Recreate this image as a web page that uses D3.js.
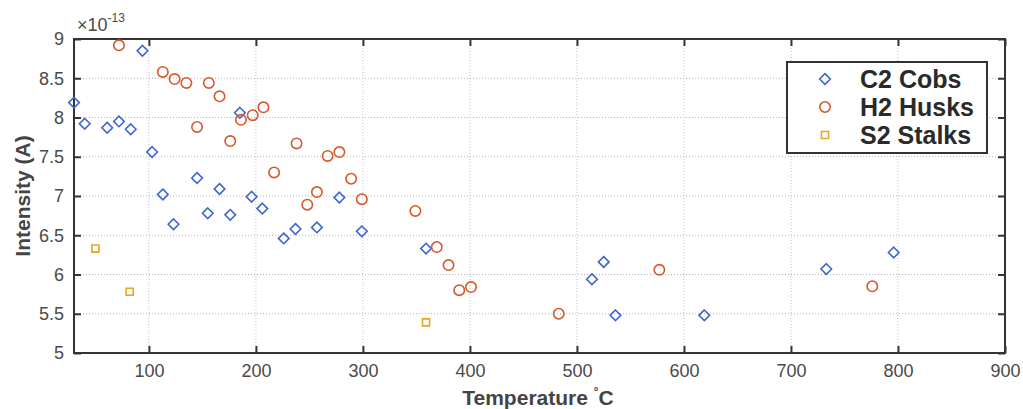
<!DOCTYPE html>
<html><head><meta charset="utf-8">
<script src="https://cdn.jsdelivr.net/npm/d3@7"></script>
<style>body{margin:0;background:#fff;}svg{display:block;}</style>
</head><body>
<svg id="c" width="1023" height="409"></svg>
<script>
const seriesNames = ["C2 Cobs", "H2 Husks", "S2 Stalks"];
const cobsX = [30, 40, 61, 72, 83, 94, 103, 113, 123, 145, 155, 166, 176, 185, 196, 206, 226, 237, 257, 278, 299, 359, 514, 525, 536, 619, 733, 796];
const cobsY = [8.19, 7.92, 7.87, 7.95, 7.85, 8.85, 7.56, 7.02, 6.64, 7.23, 6.78, 7.09, 6.76, 8.06, 6.99, 6.84, 6.46, 6.58, 6.60, 6.98, 6.55, 6.33, 5.94, 6.16, 5.48, 5.48, 6.07, 6.28];
const husksX = [72, 113, 124, 135, 145, 156, 166, 176, 186, 197, 207, 217, 238, 248, 257, 267, 278, 289, 299, 349, 369, 380, 390, 401, 483, 577, 776];
const husksY = [8.92, 8.58, 8.49, 8.44, 7.88, 8.44, 8.27, 7.70, 7.97, 8.03, 8.13, 7.30, 7.67, 6.89, 7.05, 7.51, 7.56, 7.22, 6.96, 6.81, 6.35, 6.12, 5.80, 5.84, 5.50, 6.06, 5.85];
const stalksX = [50, 82, 359];
const stalksY = [6.33, 5.78, 5.39];
const xTicks = [100, 200, 300, 400, 500, 600, 700, 800, 900];
const yTicks = [5, 5.5, 6, 6.5, 7, 7.5, 8, 8.5, 9];

const svg = d3.select("#c");
const L = 74, R = 1005, T = 39, B = 353;
const x = d3.scaleLinear().domain([30, 900]).range([L, R]);
const y = d3.scaleLinear().domain([5, 9]).range([B, T]);
const font = "Liberation Sans, Arial, Helvetica, sans-serif";

// grid
const g = svg.append("g");
g.selectAll(".gx").data(xTicks).join("line")
  .attr("x1", d => x(d)).attr("x2", d => x(d)).attr("y1", T).attr("y2", B)
  .attr("stroke", "#b8bde0").attr("stroke-width", 1).attr("stroke-dasharray", "1,2");
g.selectAll(".gy").data(yTicks).join("line")
  .attr("x1", L).attr("x2", R).attr("y1", d => y(d)).attr("y2", d => y(d))
  .attr("stroke", "#b5b5b5").attr("stroke-width", 1).attr("stroke-dasharray", "1,2");

// axes
const axB = d3.axisBottom(x).tickValues(xTicks).tickSizeInner(-7).tickSizeOuter(0).tickPadding(11);
const axT = d3.axisTop(x).tickValues(xTicks).tickSizeInner(-7).tickSizeOuter(0).tickFormat("");
const axL = d3.axisLeft(y).tickValues(yTicks).tickSizeInner(-7).tickSizeOuter(0).tickPadding(10).tickFormat(d3.format("~g"));
const axR = d3.axisRight(y).tickValues(yTicks).tickSizeInner(-7).tickSizeOuter(0).tickFormat("");
function style(sel) {
  sel.selectAll("path").remove();
  sel.selectAll("line").attr("stroke", "#333").attr("stroke-width", 2);
  sel.selectAll("text").attr("font-family", font).attr("font-size", 18).attr("fill", "#4a4a4a");
}
svg.append("g").attr("transform", `translate(0,${B})`).call(axB).call(style);
svg.append("g").attr("transform", `translate(0,${T})`).call(axT).call(style);
svg.append("g").attr("transform", `translate(${L},0)`).call(axL).call(style);
svg.append("g").attr("transform", `translate(${R},0)`).call(axR).call(style);
svg.append("rect").attr("x", L).attr("y", T).attr("width", R - L).attr("height", B - T)
  .attr("fill", "none").attr("stroke", "#333").attr("stroke-width", 2);

// markers
const colors = ["#3f66cc", "#d4582a", "#e6a620"];
const diamond = d3.symbol().type(d3.symbolDiamond2).size(72);
const circle = d3.symbol().type(d3.symbolCircle).size(85);
const square = d3.symbol().type(d3.symbolSquare).size(50);
const shapes = [diamond, circle, square];
const data = [
  cobsX.map((v, i) => [v, cobsY[i]]),
  husksX.map((v, i) => [v, husksY[i]]),
  stalksX.map((v, i) => [v, stalksY[i]])
];
data.forEach((pts, s) => {
  svg.append("g").selectAll("path").data(pts).join("path")
    .attr("d", shapes[s]())
    .attr("transform", d => `translate(${x(d[0])},${y(d[1])})`)
    .attr("fill", "none").attr("stroke", colors[s]).attr("stroke-width", 1.6);
});

// exponent label
const ex = svg.append("text").attr("x", 77).attr("y", 31).attr("font-family", font)
  .attr("font-size", 18).attr("fill", "#4a4a4a");
ex.append("tspan").text("×10");
ex.append("tspan").attr("dy", -9).attr("font-size", 12).text("-13");

// axis labels
svg.append("text").attr("x", 538).attr("y", 405).attr("text-anchor", "middle")
  .attr("font-family", font).attr("font-weight", "bold").attr("font-size", 21).attr("fill", "#444")
  .call(t => { t.append("tspan").text("Temperature "); t.append("tspan").attr("dy", -9).attr("font-size", 12).text("°"); t.append("tspan").attr("dy", 9).text("C"); });
svg.append("text").attr("transform", `translate(30,${(T + B) / 2}) rotate(-90)`).attr("text-anchor", "middle")
  .attr("font-family", font).attr("font-weight", "bold").attr("font-size", 21).attr("fill", "#444")
  .text("Intensity (A)");

// legend
const lg = svg.append("g");
lg.append("rect").attr("x", 787).attr("y", 62).attr("width", 200).attr("height", 91)
  .attr("fill", "#fff").attr("stroke", "#333").attr("stroke-width", 2);
seriesNames.forEach((n, i) => {
  const cy = 79 + i * 28;
  lg.append("path").attr("d", shapes[i]()).attr("transform", `translate(825,${cy})`)
    .attr("fill", "none").attr("stroke", colors[i]).attr("stroke-width", 1.6);
  lg.append("text").attr("x", 860).attr("y", cy + 9).attr("font-family", font)
    .attr("font-weight", "bold").attr("font-size", 25).attr("fill", "#2a2a2a").text(n);
});
</script>
</body></html>
